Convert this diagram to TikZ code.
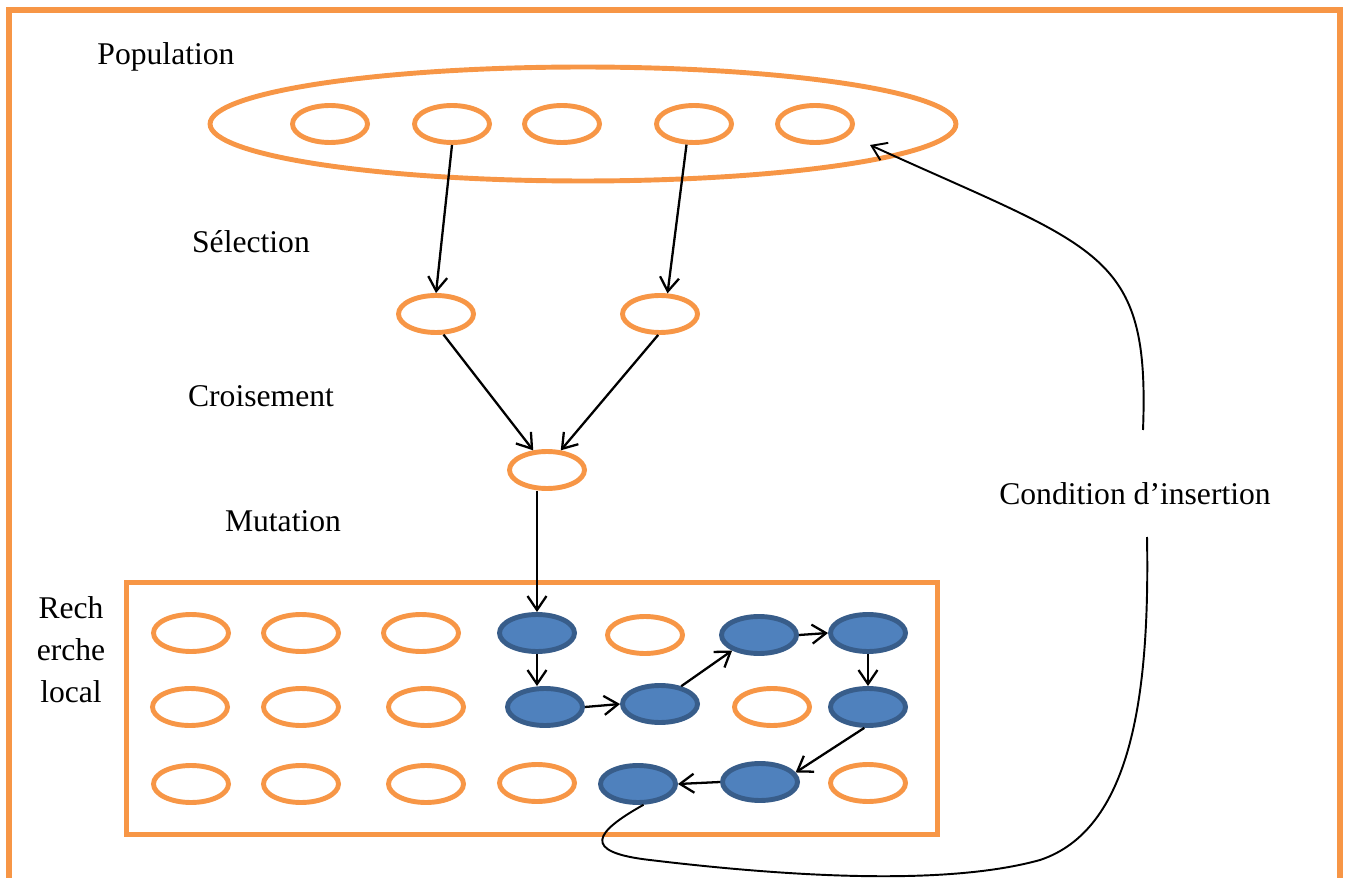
\documentclass[tikz,border=0pt]{standalone}
\usepackage{fontspec}
\setmainfont{Liberation Serif}
\usepackage{tikz}
\usetikzlibrary{arrows.meta, shapes.geometric}
\definecolor{orangecadre}{HTML}{F79646}
\definecolor{bleuls}{HTML}{4F81BD}
\definecolor{bleubord}{HTML}{385D8A}

\begin{document}
\begin{tikzpicture}[x=0.02cm, y=-0.02cm,
    indiv/.style={ellipse, draw=orangecadre, line width=2.8pt, minimum width=1.5cm, minimum height=0.74cm, inner sep=0pt},
    choisi/.style={indiv, draw=bleubord, fill=bleuls},
    etiq/.style={font=\fontsize{18}{24}\selectfont, align=center, inner sep=0pt},
    fleche/.style={-{Straight Barb[length=2.8mm, width=3.8mm]}, line width=1.3pt},
    lien/.style={line width=1.1pt}]
    \clip (0,0) rectangle (1349,878);
    \draw[orangecadre, line width=3pt] (9,10) rectangle (1340,900);

    % population
    \node[indiv, minimum width=14.92cm, minimum height=2.28cm] (pop) at (583,124) {};
    \foreach \nom/\x in {p1/330, p2/452, p3/562, p4/694, p5/815}
      \node[indiv] (\nom) at (\x,124) {};
    \node[indiv] (s1) at (436,314) {};
    \node[indiv] (s2) at (660,314) {};
    \node[indiv] (c) at (547,470) {};

    \node[etiq] (lpop) at (166,57) {Population};
    \node[etiq] (lsel) at (251,242) {Sélection};
    \node[etiq] (lcro) at (261,396) {Croisement};
    \node[etiq] (lmut) at (283,521) {Mutation};
    \node[etiq] (lrl) at (71,650) {Rech\\erche\\local};
    \node[etiq] (lcond) at (1135,494) {Condition d’insertion};

    % recherche locale
    \draw[orangecadre, line width=3pt] (126.5,582.5) rectangle (937.5,834.5);
    \foreach \nom/\x/\y/\sty in {
      g11/191/633/indiv, g12/301/633/indiv, g13/421/633/indiv, g14/537/633/choisi,
      g15/645/635/indiv, g16/759/635/choisi, g17/868/633/choisi,
      g21/190/707/indiv, g22/301/707/indiv, g23/426/707/indiv, g24/545/707/choisi,
      g25/660/704/choisi, g26/772/707/indiv, g27/868/707/choisi,
      g31/191/784/indiv, g32/301/784/indiv, g33/426/784/indiv, g34/537/783/indiv,
      g35/638/784/choisi, g36/760/782/choisi, g37/868/783/indiv}
      \node[\sty] (\nom) at (\x,\y) {};

    \draw[fleche] (p2.south) -- (s1.north);
    \draw[fleche] (p4.250) -- (s2.70);
    \draw[fleche] (s1.290) -- (c.125);
    \draw[fleche] (s2.265) -- (c.55);
    \draw[fleche] (c.south -| g14.north) -- (g14.north);
    \draw[fleche] (g14.south) -- (g14.south |- g24.north);
    \draw[fleche] (g24.east) -- (g25.west);
    \draw[fleche] (g25.40) -- (g16.210);
    \draw[fleche] (g16.east) -- (g17.west);
    \draw[fleche] (g17.south) -- (g27.north);
    \draw[fleche] (g27.260) -- (g36.15);
    \draw[fleche] (g36.west) -- (g35.east);

    % retour vers la population
    \coordinate (cbas) at (1147,537);
    \coordinate (chaut) at (1143,430);
    \coordinate (entree) at (870,145);
    \draw[lien] (g35.285) .. controls (595,832) and (580,852) .. (650,860)
      .. controls (800,878) and (950,885) .. (1040,860)
      .. controls (1130,830) and (1150,700) .. (cbas);
    \draw[fleche, line width=1.1pt] (chaut) .. controls (1150,250) and (1100,250) .. (entree);
\end{tikzpicture}
\end{document}
